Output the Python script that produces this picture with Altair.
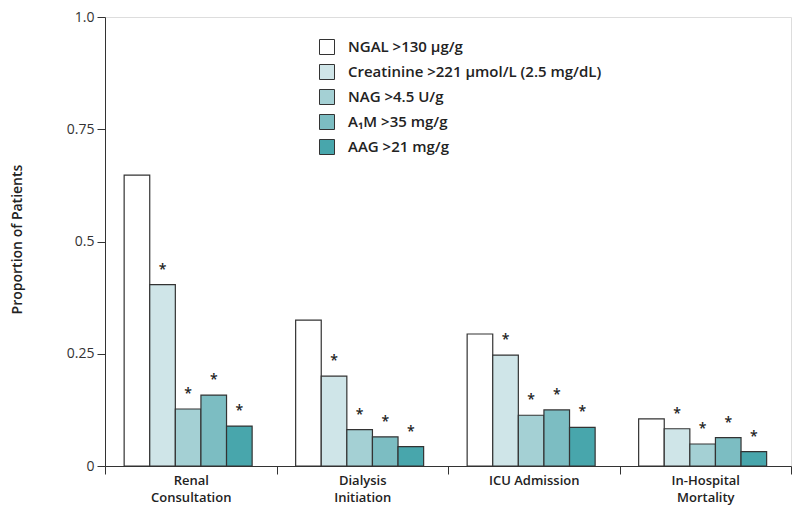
import altair as alt
import pandas as pd

categories = ["Renal Consultation", "Dialysis Initiation", "ICU Admission", "In-Hospital Mortality"]
series = ["NGAL >130 \u00b5g/g", "Creatinine >221 \u00b5mol/L (2.5 mg/dL)", "NAG >4.5 U/g",
          "A\u2081M >35 mg/g", "AAG >21 mg/g"]
colors = ["#ffffff", "#cfe5e8", "#a4d0d4", "#7cbdc2", "#48a6ac"]

renal = [0.648, 0.404, 0.127, 0.158, 0.089]
dialysis = [0.325, 0.200, 0.081, 0.065, 0.043]
icu = [0.294, 0.247, 0.113, 0.125, 0.086]
mortality = [0.105, 0.083, 0.049, 0.063, 0.032]
significant = [False, True, True, True, True]

values = [renal, dialysis, icu, mortality]
rows = []
for cat, vals in zip(categories, values):
    for s, v, sig in zip(series, vals, significant):
        rows.append({"category": cat, "series": s, "value": v, "mark": "*" if sig else ""})
df = pd.DataFrame(rows)

FONT = "Open Sans, Noto Sans"

x = alt.X("category:N", sort=categories, title=None,
          scale=alt.Scale(paddingInner=0, paddingOuter=0),
          axis=alt.Axis(tickBand="extent", labelAngle=0, tickSize=8, labelPadding=0,
                        labelFontSize=13, labelFontWeight=600, labelColor="#222",
                        labelLineHeight=17, domainColor="#333", tickColor="#333",
                        labelExpr="datum.label == 'ICU Admission' ? datum.label : split(datum.label, ' ')"))
xo = alt.XOffset("series:N", sort=series,
                 scale=alt.Scale(paddingInner=0, paddingOuter=0.85, align=0.44))
y = alt.Y("value:Q", title="Proportion of Patients",
          scale=alt.Scale(domain=[0, 1], nice=False),
          axis=alt.Axis(values=[0, 0.25, 0.5, 0.75, 1], grid=False, tickSize=8,
                        labelPadding=3, labelFontSize=14, labelFontWeight=400, labelColor="#333",
                        labelExpr="datum.value == 1 ? '1.0' : '' + datum.value",
                        domainColor="#333", tickColor="#333",
                        titleFontSize=14, titleFontWeight=600, titleColor="#222",
                        titleX=-81, titleY=222))

bars = alt.Chart(df).mark_bar(stroke="#333333", strokeWidth=1.2).encode(
    x=x, xOffset=xo, y=y,
    color=alt.Color("series:N", sort=series,
                    scale=alt.Scale(domain=series, range=colors),
                    legend=alt.Legend(title=None, orient="none", legendX=214, legendY=22,
                                      symbolType="square", symbolSize=225,
                                      symbolStrokeColor="#333", symbolStrokeWidth=1,
                                      symbolOpacity=1, labelFontSize=15, labelFontWeight=600,
                                      labelColor="#222", labelOffset=13, rowPadding=5,
                                      padding=0, labelLimit=400))
)

stars = alt.Chart(df).transform_filter("datum.mark != ''").mark_text(
    fontSize=14, fontWeight=600, color="#222", baseline="alphabetic", dy=-11, font=FONT
).encode(x=x, xOffset=xo, y=y, text="mark:N")

chart = alt.layer(bars, stars).properties(
    width=686, height=449,
    autosize=alt.AutoSizeParams(type="none"),
    padding={"left": 97, "top": 9, "right": 1, "bottom": 46},
).configure_view(stroke=None).configure(font=FONT)

chart.save("out.html", embed_options={"renderer": "svg", "actions": False})
